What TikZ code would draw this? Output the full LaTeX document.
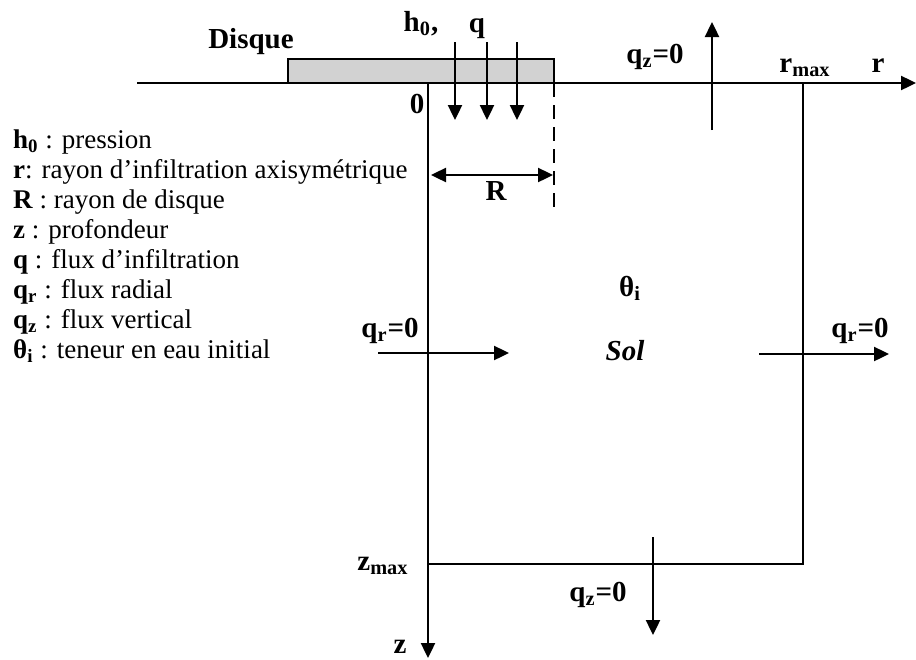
\documentclass[tikz,border=0pt]{standalone}
\usepackage{fontspec}
\setmainfont{Liberation Serif}
\usetikzlibrary{arrows.meta,positioning}

\tikzset{
  lbl/.style={font=\fontsize{14.5}{16}\selectfont\bfseries, inner sep=0pt, anchor=base},
  leg/.style={font=\fontsize{13.5}{15}\selectfont, inner sep=0pt, anchor=base west},
  flow/.style={-{Triangle[length=7.5pt,width=7pt]}},
  bothflow/.style={{Triangle[length=7.5pt,width=7pt]}-{Triangle[length=7.5pt,width=7pt]}},
}

\begin{document}
\begin{tikzpicture}[x=0.5pt,y=-0.5pt,line width=1.2pt]
\useasboundingbox (0,0) rectangle (916,659);

% Domain corners and axes
\coordinate (rstart) at (137,83);
\coordinate (rend) at (916,83);
\coordinate (orig) at (428,83);
\coordinate (zend) at (428,658);
\coordinate (rmaxtop) at (803,83);
\coordinate (rmaxbot) at (803,564);
\coordinate (zmaxpt) at (428,564);
\draw[flow] (rstart) -- (rend);
\draw[flow] (orig) -- (zend);
\draw (rmaxtop) -- (rmaxbot) -- (zmaxpt);

% Disque
\draw[fill=gray!35] (288,59) rectangle (554,83);
\node[lbl] (disque) at (251,48) {Disque};
\node[lbl] (hzero) at (421,31) {h\textsubscript{0},};
\node[lbl] (qin) at (477,32) {q};
\foreach \x [count=\i] in {455,487,517}{
  \coordinate (qtop\i) at (\x,42);
  \coordinate (qbot\i) at (\x,120);
  \draw[flow] (qtop\i) -- (qbot\i);
}

% Rayon du disque
\coordinate (dtop) at (554,83);
\coordinate (dbot) at (554,210);
\draw[dashed,dash pattern=on 7pt off 4pt,line width=1pt] (dtop) -- (dbot);
\coordinate (rleft) at (431,175);
\coordinate (rright) at (553,175);
\draw[bothflow] (rleft) -- (rright);
\node[lbl] (rdisk) at (496,200) {R};

% Axis labels
\node[lbl] (zero) at (417,113) {0};
\node[lbl] (rmax) at (805,72) {r\textsubscript{max}};
\node[lbl] (raxis) at (878,72) {r};
\node[lbl] (zmax) at (383,570) {z\textsubscript{max}};
\node[lbl] (zaxis) at (400,653) {z};

% Boundary fluxes
\node[lbl] (qztop) at (655,63) {q\textsubscript{z}=0};
\coordinate (uplo) at (712,130);
\coordinate (uphi) at (712,22);
\draw[flow] (uplo) -- (uphi);

\node[lbl] (qrleft) at (390,337) {q\textsubscript{r}=0};
\coordinate (lfrom) at (378,353);
\coordinate (lto) at (509,353);
\draw[flow] (lfrom) -- (lto);

\node[lbl] (qrright) at (860,337) {q\textsubscript{r}=0};
\coordinate (rfrom) at (759,354);
\coordinate (rto) at (889,354);
\draw[flow] (rfrom) -- (rto);

\node[lbl] (qzbot) at (598,601) {q\textsubscript{z}=0};
\coordinate (dnhi) at (653,537);
\coordinate (dnlo) at (653,635);
\draw[flow] (dnhi) -- (dnlo);

% Sol
\node[lbl] (theta) at (630,296) {θ\textsubscript{i}};
\node[lbl] (sol) at (625,360) {\textit{Sol}};

% Legend
\foreach \i/\txt in {
  0/{\textbf{h\textsubscript{0}} : pression},
  1/{\textbf{r}: rayon d’infiltration axisymétrique},
  2/{\textbf{R} : rayon de disque},
  3/{\textbf{z} : profondeur},
  4/{\textbf{q} : flux d’infiltration},
  5/{\textbf{q\textsubscript{r}} : flux radial},
  6/{\textbf{q\textsubscript{z}} : flux vertical},
  7/{\textbf{θ\textsubscript{i}} : teneur en eau initial}}{
  \node[leg] (leg\i) at (12,148+30*\i) {\txt};
}
\end{tikzpicture}
\end{document}
